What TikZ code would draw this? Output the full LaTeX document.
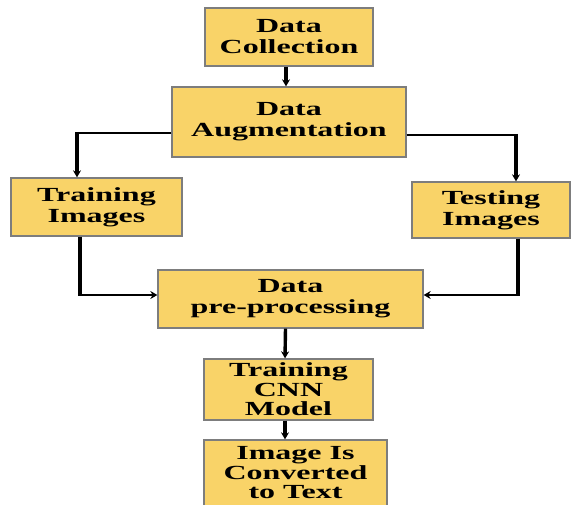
\documentclass[tikz,border=0pt]{standalone}
\usepackage{fontspec}
\setmainfont{Liberation Serif}[FakeStretch=1.6]
\usetikzlibrary{arrows.meta}
\definecolor{boxfill}{RGB}{249,211,104}
\definecolor{boxline}{RGB}{125,125,125}
\tikzset{
  box/.style={draw=boxline, line width=1.3pt, fill=boxfill, align=center,
    inner sep=0pt, font=\fontsize{20}{21}\selectfont\bfseries},
  tightbox/.style={box, font=\fontsize{20}{19.5}\selectfont\bfseries},
  hline/.style={line width=2.2pt, black},
  vline/.style={line width=3.4pt, black},
  tip/.style={-{Stealth[length=7pt,width=8pt]}},
}
\begin{document}
\begin{tikzpicture}[x=1pt,y=-1pt]
\useasboundingbox (0,0) rectangle (571,504);
\clip (0,0) rectangle (571,504);
\node[box, minimum width=168pt, minimum height=58pt] (coll) at (289,37) {Data\\Collection};
\node[box, minimum width=234pt, minimum height=70pt] (aug) at (289,122) {Data\\Augmentation};
\node[box, minimum width=171pt, minimum height=58pt] (train) at (96.5,207) {Training\\Images};
\node[box, minimum width=158pt, minimum height=56pt] (test) at (491,210) {Testing\\Images};
\node[box, minimum width=265pt, minimum height=58pt] (pre) at (290.5,299) {Data\\pre-processing};
\node[tightbox, minimum width=169pt, minimum height=61pt] (cnn) at (288.5,389.5) {Training\\CNN\\Model};
\node[tightbox, minimum width=183pt, minimum height=66pt] (img) at (295.5,473) {Image Is\\Converted\\to Text};

\draw[vline,tip] ([xshift=-3pt]coll.south) -- ([xshift=-3pt]aug.north);
\draw[vline,tip] ([xshift=-5pt]pre.south) -- (cnn.north -| 285,0);
\draw[vline,tip] (cnn.south -| 285,0) -- (img.north -| 285,0);

\coordinate (lt) at (77,133);
\coordinate (lb) at (80,295);
\coordinate (rt) at (516,135);
\coordinate (rb) at (518,295);
\draw[hline] (aug.west |- lt) -- ([xshift=-1.7pt]lt);
\draw[vline,tip] ([yshift=1.1pt]lt) -- (train.north -| lt);
\draw[vline] (train.south -| lb) -- ([yshift=-1.1pt]lb);
\draw[hline,tip] ([xshift=-1.7pt]lb) -- (pre.west |- lb);
\draw[hline] (aug.east |- rt) -- ([xshift=1.7pt]rt);
\draw[vline,tip] ([yshift=1.1pt]rt) -- (test.north -| rt);
\draw[vline] (test.south -| rb) -- ([yshift=-1.1pt]rb);
\draw[hline,tip] ([xshift=1.7pt]rb) -- (pre.east |- rb);
\end{tikzpicture}
\end{document}
